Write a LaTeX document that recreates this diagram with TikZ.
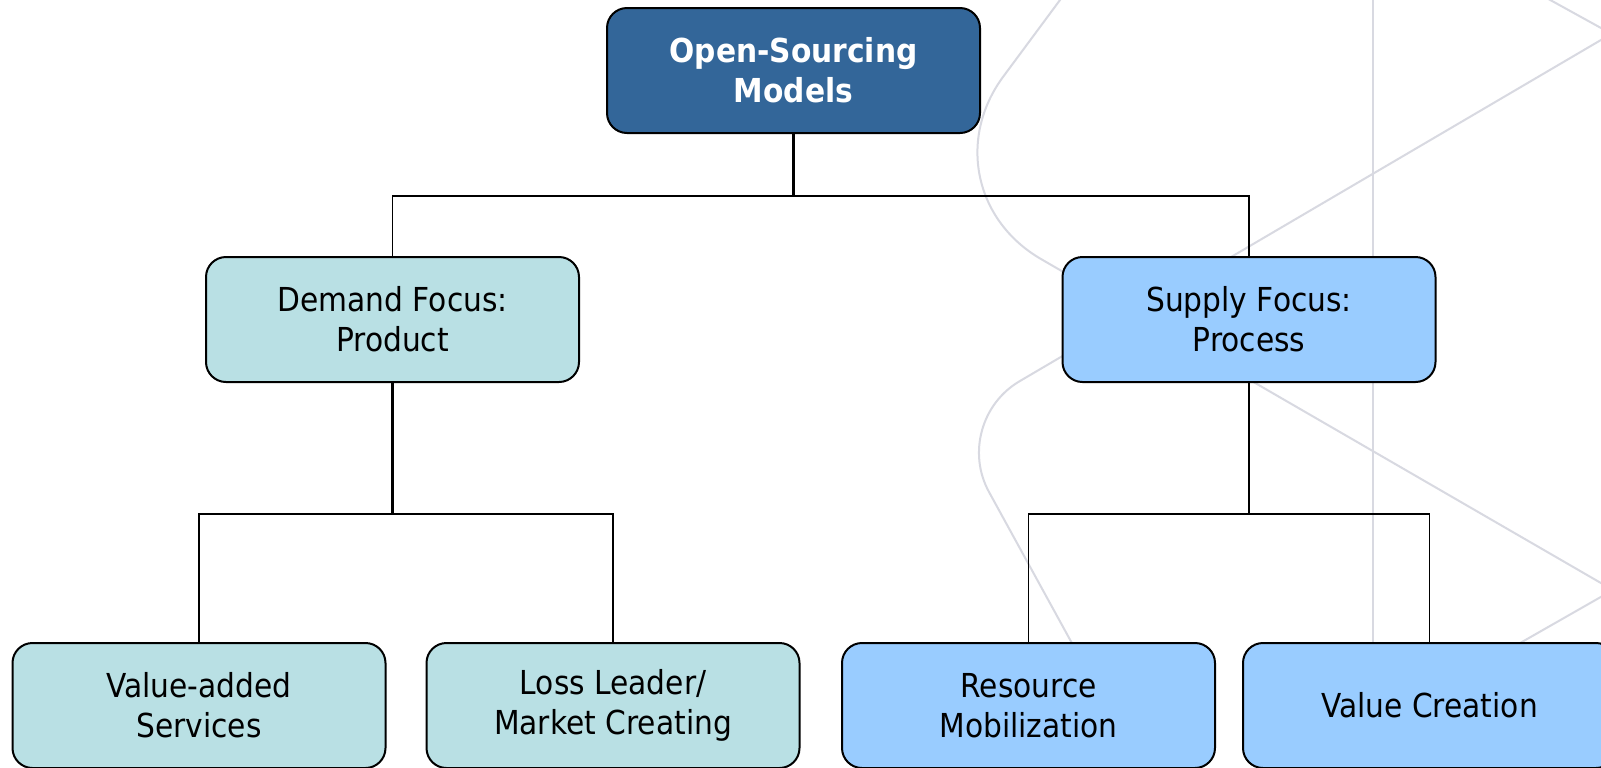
\documentclass[tikz,border=0pt]{standalone}
\usepackage{fontspec}
\setmainfont{DejaVu Sans}[FakeStretch=0.9]
\definecolor{rootblue}{RGB}{51,102,153}
\definecolor{demandfill}{RGB}{185,224,228}
\definecolor{supplyfill}{RGB}{153,204,255}
\definecolor{swoosh}{RGB}{216,217,225}

\begin{document}
\begin{tikzpicture}[x=0.5pt,y=-0.5pt,
  box/.style={draw=black, line width=1pt, rounded corners=10pt,
    minimum width=186.5pt, minimum height=62.5pt, align=center, inner sep=0pt,
    font=\fontsize{16.5pt}{20pt}\selectfont},
  rootbox/.style={box, fill=rootblue, text=white,
    font=\fontsize{16.5pt}{20pt}\selectfont\bfseries},
  demandbox/.style={box, fill=demandfill},
  supplybox/.style={box, fill=supplyfill},
  stem/.style={line width=1.25pt},
  branch/.style={line width=0.75pt},
  backline/.style={draw=swoosh, line width=1pt}]

\useasboundingbox (0,0) rectangle (1601,767);
\fill[white] (0,0) rectangle (1601,767);

% decorative background strokes
\draw[backline] (1373,-5) -- (1373,772);
\draw[backline, rounded corners=70pt] (1074.8,-20) -- (920,189) -- (1250,380);
\draw[backline] (1250,380) -- (1613,590) -- (1280,780);
\draw[backline] (1514,-20) -- (1611.5,33.8) -- (1260,240);
\draw[backline, rounded corners=40pt] (1260,240) -- (950.5,421.8) -- (1147,780);

% boxes
\node[rootbox]   (root)   at (793.5,70.5)  {Open-Sourcing\\Models};
\node[demandbox] (demand) at (392.5,319.5) {Demand Focus:\\Product};
\node[supplybox] (supply) at (1249,319.5)  {Supply Focus:\\Process};
\node[demandbox] (vas)    at (199,705.5)   {Value-added\\Services};
\node[demandbox] (llmc)   at (613,705.5)   {Loss Leader/\\Market Creating};
\node[supplybox] (rm)     at (1028.5,705.5){Resource\\Mobilization};
\node[supplybox] (vc)     at (1429.5,705.5){Value Creation};

% connectors
\coordinate (lvl1) at (0,196);
\coordinate (lvl2) at (0,514);
\draw[stem]   (root.south) -- (root.south |- lvl1);
\draw[branch] (demand.north) |- (root.south |- lvl1) -| (supply.north);
\draw[stem]   (demand.south) -- (demand.south |- lvl2);
\draw[branch] (vas.north) |- (demand.south |- lvl2) -| (llmc.north);
\draw[stem]   (supply.south) -- (supply.south |- lvl2);
\draw[branch] (rm.north) |- (supply.south |- lvl2) -| (vc.north);
\end{tikzpicture}
\end{document}
